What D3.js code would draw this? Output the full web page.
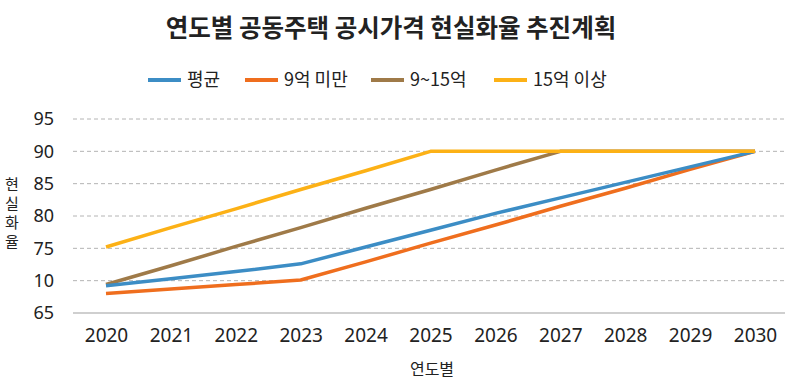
<!DOCTYPE html>
<html>
<head>
<meta charset="utf-8">
<script src="https://cdn.jsdelivr.net/npm/d3@7"></script>
<style>
  body { margin: 0; background: #fff; }
  svg text { font-family: "Noto Sans CJK KR", "Noto Sans", sans-serif; fill: #222; }
</style>
</head>
<body>
<div id="chart"></div>
<script>
// data
var years = [2020, 2021, 2022, 2023, 2024, 2025, 2026, 2027, 2028, 2029, 2030];
var avgRate = [69.2, 70.3, 71.4, 72.6, 75.2, 77.8, 80.4, 82.8, 85.2, 87.6, 90];
var under9 = [68.0, 68.7, 69.4, 70.1, 72.9, 75.8, 78.6, 81.5, 84.3, 87.2, 90];
var from9to15 = [69.4, 72.3, 75.3, 78.2, 81.2, 84.1, 87.1, 90, 90, 90, 90];
var over15 = [75.2, 78.2, 81.1, 84.1, 87.0, 90, 90, 90, 90, 90, 90];
var seriesNames = ['평균', '9억 미만', '9~15억', '15억 이상'];
var seriesColors = ['#3c8dc5', '#ef6e1e', '#9f7a48', '#fcb116'];
var yTicks = [65, 70, 75, 80, 85, 90, 95];
var yTickLabels = ['65', '10', '75', '80', '85', '90', '95'];

var Chart = {

	draw: function() {
		var W = 800, H = 380,
			left = 73, right = 785, top = 119, bottom = 313;

		var svg = d3.select('#chart').append('svg')
			.attr('width', W)
			.attr('height', H);

		var x = d3.scalePoint()
			.domain(years)
			.range([106, 755]);

		var y = d3.scaleLinear()
			.domain([65, 95])
			.range([bottom, top]);

		// title
		svg.append('text')
			.attr('x', 391)
			.attr('y', 37)
			.attr('text-anchor', 'middle')
			.style('font-size', '24.5px')
			.style('font-weight', 700)
			.text('연도별 공동주택 공시가격 현실화율 추진계획');

		// grid
		svg.append('g').selectAll('line')
			.data(yTicks.filter(function(d) { return d > 65; }))
			.enter()
			.append('line')
			.attr('x1', left)
			.attr('x2', right)
			.attr('y1', function(d) { return y(d); })
			.attr('y2', function(d) { return y(d); })
			.style('stroke', '#b4b4b4')
			.style('stroke-width', 1)
			.style('stroke-dasharray', '4,3');

		svg.append('line')
			.attr('x1', left)
			.attr('x2', right)
			.attr('y1', y(65))
			.attr('y2', y(65))
			.style('stroke', '#a0a0a0')
			.style('stroke-width', 1.2);

		// y axis labels
		var yAxis = d3.axisLeft(y)
			.tickValues(yTicks)
			.tickSize(0)
			.tickPadding(0)
			.tickFormat(function(d) { return yTickLabels[yTicks.indexOf(d)]; });

		svg.append('g')
			.attr('transform', 'translate(54,0)')
			.call(yAxis)
			.call(function(g) { g.select('.domain').remove(); })
			.selectAll('text')
			.style('font-size', '18px')
			.style('font-family', '"Noto Sans", sans-serif')
			.attr('fill', '#222');

		// x axis labels
		var xAxis = d3.axisBottom(x)
			.tickSize(0)
			.tickPadding(0);

		svg.append('g')
			.attr('transform', 'translate(0,' + 328 + ')')
			.call(xAxis)
			.call(function(g) { g.select('.domain').remove(); })
			.selectAll('text')
			.style('font-size', '19px')
			.style('font-family', '"Noto Sans", sans-serif')
			.attr('fill', '#222');

		// axis titles
		svg.append('text')
			.attr('x', 432)
			.attr('y', 375)
			.attr('text-anchor', 'middle')
			.style('font-size', '16px')
			.text('연도별');

		svg.append('text')
			.attr('x', 12)
			.attr('y', 190)
			.attr('text-anchor', 'middle')
			.style('font-size', '15px')
			.selectAll('tspan')
			.data('현실화율'.split(''))
			.enter()
			.append('tspan')
			.attr('x', 12)
			.attr('dy', function(d, i) { return i ? 19 : 0; })
			.text(function(d) { return d; });

		// lines
		var allSeries = [avgRate, under9, from9to15, over15];
		var line = d3.line()
			.x(function(d, i) { return x(years[i]); })
			.y(function(d) { return y(d); });

		// brown goes under blue/orange like the reference, yellow on top
		var order = [2, 1, 0, 3];
		svg.append('g').selectAll('path')
			.data(order)
			.enter()
			.append('path')
			.attr('d', function(k) { return line(allSeries[k]); })
			.style('fill', 'none')
			.style('stroke', function(k) { return seriesColors[k]; })
			.style('stroke-width', 3.5)
			.style('stroke-linejoin', 'round');

		// legend
		var legendX = [148, 245, 371, 494];
		var legend = svg.append('g').selectAll('g')
			.data(seriesNames)
			.enter()
			.append('g')
			.attr('transform', function(d, i) { return 'translate(' + legendX[i] + ',80)'; });

		legend.append('line')
			.attr('x1', 0)
			.attr('x2', 33)
			.style('stroke', function(d, i) { return seriesColors[i]; })
			.style('stroke-width', 4);

		legend.append('text')
			.attr('x', 39)
			.attr('y', 6)
			.style('font-size', '18px')
			.text(function(d) { return d; });
	}
};

Chart.draw();
</script>
</body>
</html>
